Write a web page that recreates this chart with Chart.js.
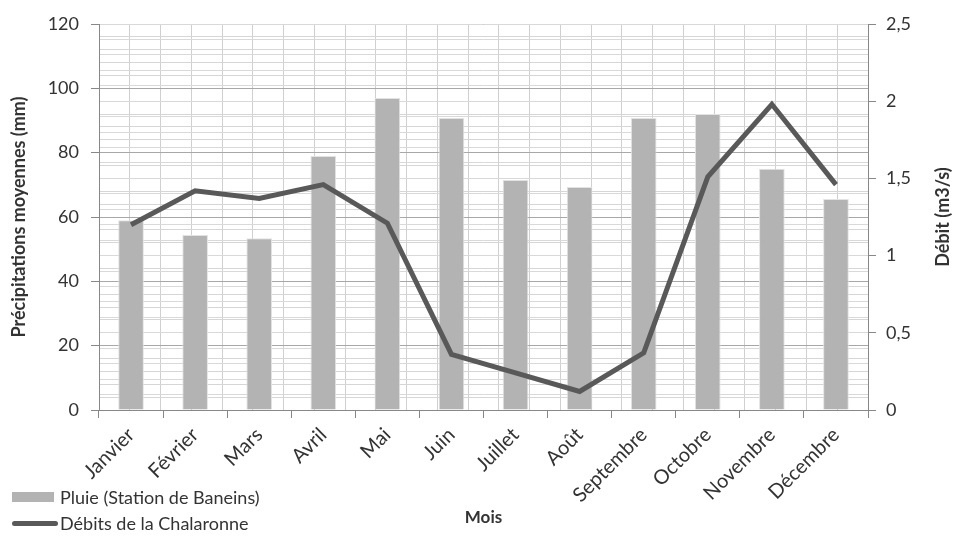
<!DOCTYPE html>
<html>
<head>
<meta charset="utf-8">
<script src="https://cdn.jsdelivr.net/npm/chart.js@4/dist/chart.umd.min.js"></script>
<style>
  html, body { margin: 0; padding: 0; background: #fff; }
  #wrap { position: relative; width: 954px; height: 536px; }
  #legend { position: absolute; left: 12px; top: 484px; font: 18px Lato, sans-serif; color: #333; }
  #legend div { display: flex; align-items: center; height: 26px; }
  #legend .sym { width: 46px; margin-right: 2px; }
</style>
</head>
<body>
<div id="wrap">
  <canvas id="chart" width="954" height="536"></canvas>
  <div id="legend"></div>
</div>
<script>
let months = ['Janvier', 'Février', 'Mars', 'Avril', 'Mai', 'Juin', 'Juillet', 'Août', 'Septembre', 'Octobre', 'Novembre', 'Décembre'];
let pluie = [59, 54.4, 53.4, 79, 97, 90.8, 71.5, 69.3, 90.8, 92, 75, 65.6];
let debits = [1.20, 1.42, 1.37, 1.46, 1.21, 0.36, 0.24, 0.12, 0.37, 1.51, 1.98, 1.46];

let pluieLabel = 'Pluie (Station de Baneins)';
let debitLabel = 'Débits de la Chalaronne';

let font = "Lato, 'Open Sans', sans-serif";
let textColor = '#333';

let frNumber = v => String(v).replace('.', ',');

let rightTitle = {
  id: 'rightTitle',
  afterDraw(chart) {
    let ctx = chart.ctx;
    let area = chart.chartArea;
    ctx.save();
    ctx.translate(943, (area.top + area.bottom) / 2);
    ctx.rotate(-Math.PI / 2);
    ctx.font = 'bold 18px ' + font;
    ctx.fillStyle = textColor;
    ctx.textAlign = 'center';
    ctx.textBaseline = 'middle';
    ctx.fillText('Débit (m3/s)', 0, 0);
    ctx.restore();
  }
};

let data = {
  labels: months,
  datasets: [
    {
      type: 'line',
      label: debitLabel,
      data: debits,
      yAxisID: 'y1',
      borderColor: '#595959',
      backgroundColor: '#595959',
      borderWidth: 5,
      pointRadius: 0,
      tension: 0,
      order: 0
    },
    {
      type: 'bar',
      label: pluieLabel,
      data: pluie,
      yAxisID: 'y',
      backgroundColor: '#b3b3b3',
      borderColor: '#e2e2e2',
      borderWidth: 1,
      categoryPercentage: 1,
      barPercentage: 0.4,
      order: 1
    }
  ]
};

let options = {
  responsive: false,
  animation: false,
  layout: { padding: { top: 24, left: 0, right: 0, bottom: 0 } },
  plugins: {
    legend: { display: false },
    tooltip: { enabled: false }
  },
  scales: {
    x: {
      type: 'category',
      position: 'bottom',
      offset: true,
      afterFit: s => { s.height = 126; },
      grid: { drawOnChartArea: false, offset: true, tickLength: 8, color: '#888' },
      border: { color: '#888' },
      ticks: {
        color: textColor,
        font: { family: font, size: 20 },
        minRotation: 45,
        maxRotation: 45,
        autoSkip: false,
        padding: 5
      },
      title: {
        display: true,
        text: 'Mois',
        color: textColor,
        font: { family: font, size: 17, weight: 'bold' },
        padding: { top: 0, bottom: 8 }
      }
    },
    xg: {
      type: 'linear',
      position: 'top',
      min: -0.5,
      max: 11.5,
      afterFit: s => { s.height = 0; },
      grid: { color: '#d0d0d0', drawTicks: false },
      border: { display: false },
      ticks: { display: false, stepSize: 0.5, autoSkip: false }
    },
    y: {
      position: 'left',
      min: 0,
      max: 120,
      afterFit: s => { s.width = 99; },
      grid: {
        color: c => (c.tick && c.tick.value % 20 === 0) ? '#a8a8a8' : '#d6d6d6',
        tickColor: c => (c.tick && c.tick.value % 20 === 0) ? '#888' : 'rgba(0,0,0,0)',
        tickLength: 8
      },
      border: { color: '#888' },
      ticks: {
        stepSize: 4,
        autoSkip: false,
        padding: 12,
        color: textColor,
        font: { family: font, size: 18 },
        callback: v => v % 20 === 0 ? String(v) : ''
      },
      title: {
        display: true,
        text: 'Précipitations moyennes (mm)',
        color: textColor,
        font: { family: font, size: 18, weight: 'bold' },
        padding: { top: 8, bottom: 4 }
      }
    },
    y1: {
      position: 'right',
      min: 0,
      max: 2.5,
      afterFit: s => { s.width = 86; },
      grid: {
        color: '#d9d9d9',
        tickColor: c => (c.tick && Math.abs(c.tick.value * 2 - Math.round(c.tick.value * 2)) < 1e-6) ? '#888' : 'rgba(0,0,0,0)',
        tickLength: 8
      },
      border: { color: '#888' },
      ticks: {
        stepSize: 0.1,
        autoSkip: false,
        padding: 10,
        color: textColor,
        font: { family: font, size: 18 },
        callback: v => Math.abs(v * 2 - Math.round(v * 2)) < 1e-6 ? frNumber(Math.round(v * 2) / 2) : ''
      }
    }
  }
};

let chart = new Chart('chart', { type: 'bar', data, options, plugins: [rightTitle] });

// legend in the bottom-left corner, stacked like the original
let legend = document.getElementById('legend');
[pluieLabel, debitLabel].forEach(label => {
  let ds = chart.data.datasets.find(d => d.label === label);
  let row = document.createElement('div');
  let sym = document.createElement('span');
  sym.className = 'sym';
  if (ds.type === 'bar') {
    sym.style.height = '10px';
    sym.style.width = '42px';
    sym.style.marginRight = '6px';
    sym.style.background = ds.backgroundColor;
  } else {
    sym.style.height = '5px';
    sym.style.borderRadius = '3px';
    sym.style.background = ds.borderColor;
  }
  row.appendChild(sym);
  row.appendChild(document.createTextNode(label));
  legend.appendChild(row);
});
</script>
</body>
</html>
